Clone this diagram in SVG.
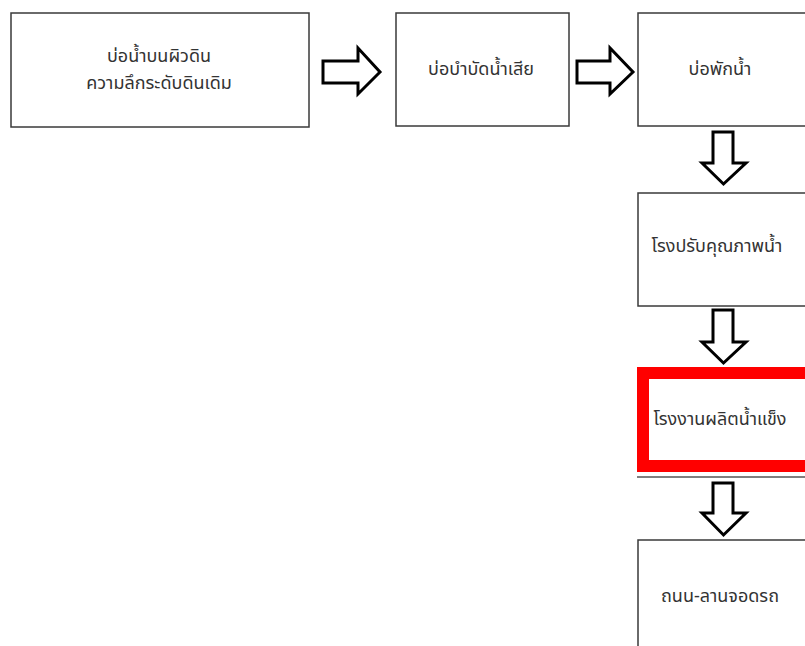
<svg xmlns="http://www.w3.org/2000/svg" width="805" height="646" viewBox="0 0 805 646">
<style>
.box{fill:#fff;stroke:#3a3a3a;stroke-width:1.5}
.lbl{font-family:"Noto Sans Thai","Noto Sans","DejaVu Sans",sans-serif;font-size:18px;fill:#333;text-anchor:middle}
.arr{fill:#fff;stroke:#000;stroke-width:3;stroke-linejoin:miter}
</style>
<rect width="805" height="646" fill="#fff"/>
<g id="n1">
<rect class="box" x="11" y="13" width="298" height="114"/>
<text class="lbl" x="159" y="62">บ่อน้ำบนผิวดิน</text>
<text class="lbl" x="159" y="89">ความลึกระดับดินเดิม</text>
</g>
<g id="n2">
<rect class="box" x="396" y="13" width="173" height="113"/>
<text class="lbl" x="481" y="75">บ่อบำบัดน้ำเสีย</text>
</g>
<g id="n3">
<rect class="box" x="638" y="13" width="170" height="113"/>
<text class="lbl" x="720" y="75">บ่อพักน้ำ</text>
</g>
<g id="n4">
<rect class="box" x="638" y="193" width="170" height="113"/>
<text class="lbl" x="717" y="252">โรงปรับคุณภาพน้ำ</text>
</g>
<g id="n5">
<line x1="637" y1="477" x2="805" y2="477" stroke="#555" stroke-width="1.5"/>
<rect x="643" y="373" width="170" height="93" fill="#fff" stroke="#f00" stroke-width="12"/>
<text class="lbl" x="720" y="425">โรงงานผลิตน้ำแข็ง</text>
</g>
<g id="n6">
<rect class="box" x="638" y="540" width="170" height="120"/>
<text class="lbl" x="720" y="602">ถนน-ลานจอดรถ</text>
</g>
<g id="connectors">
<polygon class="arr" points="323,61 358,61 358,48 380,72 358,94 358,83 323,83"/>
<polygon class="arr" points="577,61 610,61 610,48 633,72 610,94 610,83 577,83"/>
<polygon class="arr" points="713,132 733,132 733,163 746,163 723.5,184 702,163 713,163"/>
<polygon class="arr" points="713,310 733,310 733,342 746,342 723.5,363 702,342 713,342"/>
<polygon class="arr" points="713,483 733,483 733,513 746,513 723.5,535 702,513 713,513"/>
</g>
</svg>
